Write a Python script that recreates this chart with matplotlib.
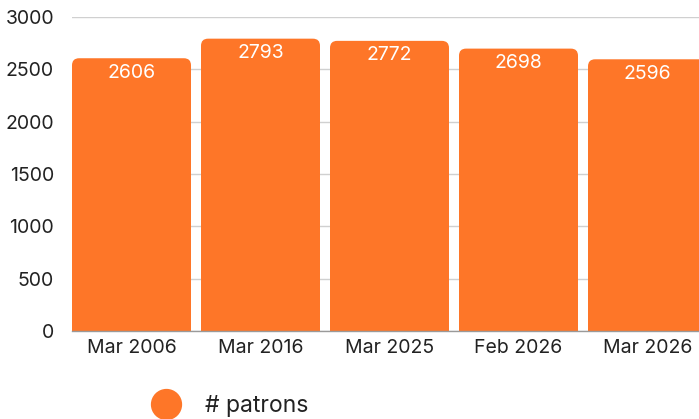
import matplotlib
matplotlib.use('Agg')
import matplotlib.pyplot as plt
from matplotlib.patches import FancyBboxPatch
from matplotlib.lines import Line2D

CATEGORIES = ['Mar 2006', 'Mar 2016', 'Mar 2025', 'Feb 2026', 'Mar 2026']
PATRONS = [2606, 2793, 2772, 2698, 2596]
Y_TICKS = [0, 500, 1000, 1500, 2000, 2500, 3000]

BAR_COLOUR = '#FE7628'
TEXT_COLOUR = '#222222'

plt.rcParams['font.family'] = ['Inter', 'DejaVu Sans']

fig = plt.figure(figsize=(6.99, 4.19), dpi=100)
ax = fig.add_axes([72 / 699, (419 - 331) / 419, 1 - 72 / 699, (331 - 17) / 419])

x = list(range(len(CATEGORIES)))
bar_width = 119 / 129

# plain bars first so the library works out the geometry, then swap in rounded ones
bars = ax.bar(x, PATRONS, width=bar_width, color=BAR_COLOUR)
ax.set_xlim(-bar_width / 2, 4 + 51.5 / 129)
ax.set_ylim(0, 3000)

# y units per x unit on screen, so the corners come out round
aspect = (3000 / 314) * 129
for b in bars:
    b.set_visible(False)
    bottom = -200
    rounded = FancyBboxPatch((b.get_x(), bottom), b.get_width(), b.get_height() - bottom,
                             boxstyle='round,pad=0,rounding_size=0.055',
                             mutation_aspect=aspect,
                             facecolor=BAR_COLOUR, edgecolor='none', zorder=2)
    ax.add_patch(rounded)

for xi, val in zip(x, PATRONS):
    ax.annotate(str(val), (xi, val), xytext=(0, -10.5), textcoords='offset points',
                ha='center', va='center', color='white', fontsize=14, zorder=3)

ax.set_yticks(Y_TICKS)
ax.set_xticks(x)
ax.set_xticklabels(CATEGORIES)
ax.tick_params(axis='both', length=0, labelsize=14, colors=TEXT_COLOUR)
ax.tick_params(axis='y', pad=13)
ax.tick_params(axis='x', pad=6)
ax.grid(axis='y', color='#d0d0d0', linewidth=1)
ax.set_axisbelow(True)
for side in ['top', 'right', 'left']:
    ax.spines[side].set_visible(False)
ax.spines['bottom'].set_color('#9a9a9a')
ax.spines['bottom'].set_linewidth(1)

handle = Line2D([], [], marker='o', linestyle='none', markersize=21.5,
                markerfacecolor=BAR_COLOUR, markeredgecolor=BAR_COLOUR)
fig.legend([handle], ['# patrons'], loc='center left',
           bbox_to_anchor=(155 / 699, (419 - 406) / 419), frameon=False,
           fontsize=16.5, handletextpad=1.2, borderpad=0, borderaxespad=0,
           labelcolor=TEXT_COLOUR, handlelength=1.0)

fig.savefig('out.png', dpi=100)
